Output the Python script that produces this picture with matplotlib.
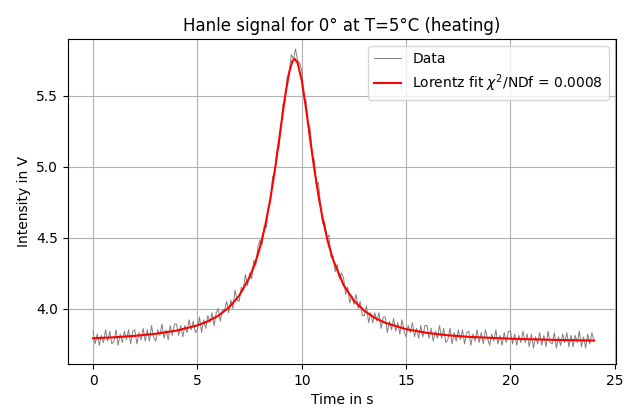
import numpy as np
import matplotlib
matplotlib.use("Agg")
import matplotlib.pyplot as plt

# measured signal, one sample every 0.1 s from 0 to 24 s
time = np.round(np.arange(0, 241) * 0.1, 1)
intensity = [
    3.84, 3.75, 3.82, 3.74, 3.81, 3.76, 3.85, 3.77, 3.84, 3.75,
    3.77, 3.85, 3.74, 3.82, 3.76, 3.84, 3.78, 3.85, 3.75, 3.84,
    3.85, 3.75, 3.83, 3.78, 3.86, 3.77, 3.85, 3.77, 3.88, 3.80,
    3.77, 3.85, 3.81, 3.89, 3.79, 3.85, 3.78, 3.88, 3.81, 3.89,
    3.89, 3.81, 3.88, 3.80, 3.88, 3.83, 3.92, 3.85, 3.91, 3.83,
    3.85, 3.94, 3.83, 3.92, 3.86, 3.95, 3.90, 3.97, 3.88, 3.97,
    4.00, 3.91, 3.99, 3.99, 4.05, 3.97, 4.06, 4.00, 4.13, 4.06,
    4.05, 4.15, 4.13, 4.24, 4.16, 4.25, 4.21, 4.34, 4.31, 4.44,
    4.48, 4.45, 4.58, 4.57, 4.72, 4.75, 4.93, 4.95, 5.11, 5.13,
    5.27, 5.44, 5.46, 5.63, 5.67, 5.79, 5.76, 5.83, 5.75, 5.73,
    5.68, 5.49, 5.47, 5.31, 5.28, 5.08, 5.05, 4.87, 4.89, 4.72,
    4.60, 4.61, 4.49, 4.52, 4.36, 4.37, 4.26, 4.31, 4.21, 4.25,
    4.22, 4.10, 4.15, 4.04, 4.09, 4.03, 4.10, 4.00, 4.05, 3.95,
    3.95, 4.02, 3.90, 3.97, 3.90, 3.97, 3.91, 3.97, 3.86, 3.94,
    3.94, 3.83, 3.91, 3.85, 3.93, 3.84, 3.90, 3.82, 3.92, 3.84,
    3.80, 3.88, 3.83, 3.90, 3.80, 3.86, 3.79, 3.88, 3.80, 3.88,
    3.88, 3.79, 3.86, 3.77, 3.84, 3.79, 3.88, 3.79, 3.86, 3.76,
    3.78, 3.86, 3.75, 3.83, 3.77, 3.85, 3.78, 3.85, 3.75, 3.83,
    3.84, 3.74, 3.82, 3.77, 3.85, 3.76, 3.83, 3.75, 3.85, 3.79,
    3.74, 3.82, 3.77, 3.85, 3.75, 3.81, 3.74, 3.83, 3.76, 3.84,
    3.84, 3.75, 3.82, 3.74, 3.81, 3.76, 3.84, 3.76, 3.82, 3.73,
    3.82, 3.72, 3.80, 3.75, 3.83, 3.74, 3.81, 3.73, 3.84, 3.76,
    3.75, 3.83, 3.72, 3.80, 3.74, 3.82, 3.76, 3.83, 3.73, 3.81,
    3.73, 3.81, 3.76, 3.84, 3.73, 3.80, 3.72, 3.82, 3.75, 3.83,
    3.77,
]

# fitted Lorentz curve
fit_time = [0, 1, 2, 3, 4, 5, 5.5, 6, 6.5, 7, 7.5, 7.75, 8, 8.25, 8.5, 8.75,
            9, 9.2, 9.4, 9.55, 9.66, 9.8, 10, 10.2, 10.4, 10.6, 10.8, 11,
            11.25, 11.5, 12, 12.5, 13, 13.5, 14, 15, 16, 17, 18, 20, 22, 24]
fit_intensity = [3.790, 3.797, 3.807, 3.822, 3.844, 3.881, 3.910, 3.949, 4.006,
                 4.090, 4.221, 4.313, 4.432, 4.585, 4.778, 5.015, 5.284, 5.497,
                 5.668, 5.744, 5.761, 5.733, 5.608, 5.415, 5.196, 4.985, 4.795,
                 4.635, 4.471, 4.344, 4.166, 4.055, 3.983, 3.934, 3.899, 3.854,
                 3.828, 3.811, 3.800, 3.787, 3.779, 3.774]

fig, ax = plt.subplots(figsize=(6.24, 4.12), dpi=100)
fig.subplots_adjust(left=0.109, right=0.987, top=0.905, bottom=0.117)

ax.plot(time, intensity, color='grey', linewidth=0.7, label='Data')
ax.plot(fit_time, fit_intensity, color='red', linewidth=1.5,
        label=r'Lorentz fit $\chi^2$/NDf = 0.0008')

ax.set_title('Hanle signal for 0° at T=5°C (heating)')
ax.set_xlabel('Time in s')
ax.set_ylabel('Intensity in V')
ax.set_xticks([0, 5, 10, 15, 20, 25])
ax.set_yticks([4.0, 4.5, 5.0, 5.5])
ax.set_xlim(-1.2, 25.05)
ax.set_ylim(3.61, 5.90)
ax.grid(True)
ax.legend(loc='upper right')

fig.savefig('out.png', dpi=100)
